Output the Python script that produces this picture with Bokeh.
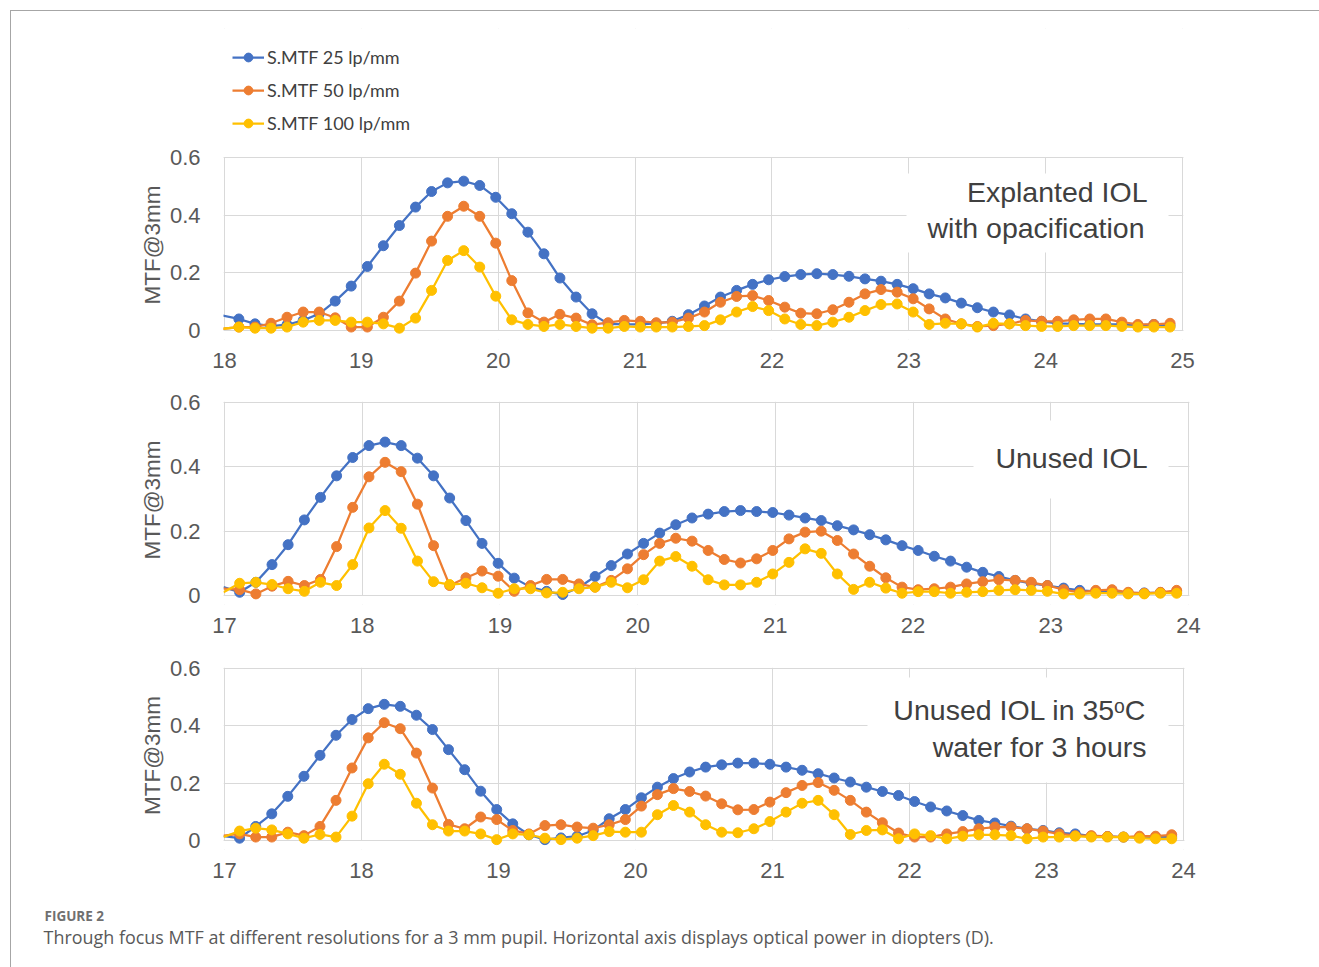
from bokeh.plotting import figure
from bokeh.models import (Range1d, FixedTicker, CustomJSTickFormatter, Legend, LegendItem,
                          Label, BoxAnnotation, Span, Title)
from bokeh.layouts import column
from bokeh.embed import file_html
from bokeh.resources import INLINE

# ---------------------------------------------------------------- data
# through-focus defocus positions (D)
x_explanted = [17.988, 18.105, 18.223, 18.340, 18.457, 18.575, 18.692, 18.809, 18.926, 19.044,
               19.161, 19.278, 19.396, 19.513, 19.630, 19.748, 19.865, 19.982, 20.099, 20.217,
               20.334, 20.451, 20.569, 20.686, 20.803, 20.921, 21.038, 21.155, 21.272, 21.390,
               21.507, 21.624, 21.742, 21.859, 21.976, 22.094, 22.211, 22.328, 22.445, 22.563,
               22.680, 22.797, 22.915, 23.032, 23.149, 23.267, 23.384, 23.501, 23.618, 23.736,
               23.853, 23.970, 24.088, 24.205, 24.322, 24.440, 24.557, 24.674, 24.791, 24.909]
x_unused = [16.993, 17.110, 17.228, 17.345, 17.462, 17.580, 17.697, 17.814, 17.931, 18.049,
            18.166, 18.283, 18.401, 18.518, 18.635, 18.753, 18.870, 18.987, 19.104, 19.222,
            19.339, 19.456, 19.574, 19.691, 19.808, 19.926, 20.043, 20.160, 20.277, 20.395,
            20.512, 20.629, 20.747, 20.864, 20.981, 21.099, 21.216, 21.333, 21.450, 21.568,
            21.685, 21.802, 21.920, 22.037, 22.154, 22.272, 22.389, 22.506, 22.623, 22.741,
            22.858, 22.975, 23.093, 23.210, 23.327, 23.445, 23.562, 23.679, 23.796, 23.914]

series_labels = ["S.MTF 25 lp/mm", "S.MTF 50 lp/mm", "S.MTF 100 lp/mm"]

# Explanted IOL with opacification
exp_25 = [0.052, 0.040, 0.023, 0.015, 0.020, 0.035, 0.058, 0.102, 0.154, 0.222,
          0.294, 0.364, 0.428, 0.482, 0.512, 0.518, 0.503, 0.462, 0.405, 0.341,
          0.266, 0.182, 0.116, 0.058, 0.023, 0.021, 0.021, 0.025, 0.032, 0.055,
          0.085, 0.116, 0.139, 0.160, 0.176, 0.187, 0.194, 0.197, 0.194, 0.188,
          0.179, 0.171, 0.160, 0.145, 0.127, 0.113, 0.095, 0.079, 0.064, 0.054,
          0.040, 0.032, 0.025, 0.023, 0.021, 0.021, 0.021, 0.018, 0.021, 0.017]
exp_50 = [0.006, 0.012, 0.012, 0.025, 0.046, 0.064, 0.064, 0.044, 0.012, 0.012,
          0.046, 0.102, 0.199, 0.310, 0.396, 0.431, 0.396, 0.303, 0.173, 0.061,
          0.029, 0.056, 0.043, 0.020, 0.027, 0.035, 0.032, 0.027, 0.029, 0.043,
          0.064, 0.098, 0.118, 0.121, 0.104, 0.081, 0.060, 0.058, 0.072, 0.098,
          0.127, 0.142, 0.133, 0.110, 0.075, 0.040, 0.023, 0.014, 0.017, 0.023,
          0.035, 0.032, 0.032, 0.037, 0.040, 0.040, 0.029, 0.021, 0.021, 0.025]
exp_100 = [0.006, 0.012, 0.008, 0.008, 0.012, 0.029, 0.035, 0.035, 0.029, 0.029,
           0.023, 0.008, 0.043, 0.139, 0.243, 0.277, 0.220, 0.119, 0.037, 0.021,
           0.014, 0.021, 0.014, 0.008, 0.008, 0.014, 0.012, 0.012, 0.012, 0.014,
           0.017, 0.037, 0.064, 0.083, 0.069, 0.040, 0.021, 0.017, 0.029, 0.046,
           0.069, 0.090, 0.092, 0.064, 0.021, 0.025, 0.023, 0.012, 0.025, 0.023,
           0.017, 0.014, 0.014, 0.017, 0.017, 0.017, 0.014, 0.012, 0.012, 0.012]

# Unused IOL
new_25 = [0.026, 0.010, 0.041, 0.096, 0.158, 0.235, 0.305, 0.372, 0.429, 0.466,
          0.477, 0.466, 0.427, 0.372, 0.303, 0.233, 0.162, 0.100, 0.054, 0.026,
          0.013, 0.003, 0.025, 0.059, 0.093, 0.129, 0.162, 0.194, 0.220, 0.241,
          0.253, 0.261, 0.264, 0.261, 0.258, 0.250, 0.241, 0.233, 0.217, 0.204,
          0.189, 0.173, 0.155, 0.140, 0.122, 0.107, 0.088, 0.072, 0.059, 0.047,
          0.038, 0.031, 0.023, 0.016, 0.013, 0.013, 0.007, 0.008, 0.009, 0.011]
new_50 = [0.021, 0.018, 0.005, 0.029, 0.044, 0.031, 0.050, 0.152, 0.274, 0.369,
          0.414, 0.385, 0.284, 0.155, 0.031, 0.055, 0.076, 0.060, 0.013, 0.031,
          0.050, 0.050, 0.036, 0.026, 0.047, 0.083, 0.127, 0.162, 0.178, 0.169,
          0.140, 0.112, 0.101, 0.114, 0.140, 0.176, 0.197, 0.200, 0.171, 0.129,
          0.091, 0.055, 0.026, 0.018, 0.021, 0.026, 0.036, 0.043, 0.049, 0.047,
          0.041, 0.031, 0.018, 0.010, 0.016, 0.018, 0.010, 0.007, 0.010, 0.016]
new_100 = [0.010, 0.038, 0.041, 0.034, 0.021, 0.013, 0.041, 0.031, 0.096, 0.210,
           0.264, 0.209, 0.107, 0.043, 0.034, 0.038, 0.024, 0.007, 0.021, 0.021,
           0.008, 0.010, 0.021, 0.026, 0.041, 0.024, 0.049, 0.107, 0.121, 0.091,
           0.049, 0.033, 0.033, 0.041, 0.067, 0.103, 0.145, 0.131, 0.067, 0.019,
           0.041, 0.023, 0.007, 0.012, 0.012, 0.007, 0.010, 0.012, 0.016, 0.018,
           0.016, 0.013, 0.005, 0.005, 0.007, 0.007, 0.005, 0.005, 0.007, 0.007]

# Unused IOL after 3 hours in 35 oC water
warm_25 = [0.015, 0.008, 0.049, 0.093, 0.154, 0.224, 0.297, 0.367, 0.422, 0.460,
           0.475, 0.468, 0.437, 0.387, 0.317, 0.247, 0.172, 0.108, 0.058, 0.020,
           0.003, 0.009, 0.015, 0.035, 0.076, 0.108, 0.149, 0.186, 0.216, 0.239,
           0.256, 0.264, 0.270, 0.270, 0.266, 0.256, 0.245, 0.233, 0.218, 0.204,
           0.186, 0.171, 0.157, 0.136, 0.117, 0.103, 0.087, 0.070, 0.061, 0.050,
           0.041, 0.035, 0.027, 0.023, 0.015, 0.014, 0.012, 0.012, 0.012, 0.012]
warm_50 = [0.017, 0.023, 0.012, 0.012, 0.029, 0.017, 0.049, 0.140, 0.253, 0.358,
           0.411, 0.390, 0.305, 0.183, 0.056, 0.041, 0.082, 0.073, 0.035, 0.023,
           0.052, 0.055, 0.047, 0.043, 0.055, 0.073, 0.120, 0.160, 0.181, 0.171,
           0.155, 0.128, 0.107, 0.108, 0.134, 0.167, 0.192, 0.202, 0.175, 0.140,
           0.099, 0.062, 0.026, 0.012, 0.012, 0.023, 0.031, 0.041, 0.047, 0.047,
           0.041, 0.033, 0.023, 0.017, 0.017, 0.014, 0.012, 0.015, 0.015, 0.020]
warm_100 = [0.012, 0.033, 0.043, 0.037, 0.023, 0.008, 0.021, 0.012, 0.085, 0.198,
            0.266, 0.231, 0.130, 0.055, 0.033, 0.033, 0.023, 0.003, 0.023, 0.020,
            0.008, 0.003, 0.008, 0.017, 0.031, 0.029, 0.029, 0.090, 0.122, 0.099,
            0.055, 0.029, 0.027, 0.041, 0.066, 0.099, 0.130, 0.140, 0.090, 0.021,
            0.035, 0.037, 0.006, 0.023, 0.017, 0.006, 0.015, 0.020, 0.020, 0.017,
            0.006, 0.012, 0.012, 0.015, 0.012, 0.012, 0.012, 0.008, 0.006, 0.006]

y_ticks = [0, 0.2, 0.4, 0.6]
y_title = "MTF@3mm"

# ---------------------------------------------------------------- style
COLORS = ["#4472C4", "#ED7D31", "#FFC000"]
FONT = "Liberation Sans"
TEXT_GREY = "#595959"
GRID = "#d9d9d9"
PAGE_W, PAGE_H = 1319, 967
ORIGIN = 11           # content starts after the 10px margin and the 1px frame line
FIG_W = PAGE_W - ORIGIN
LABEL_LIFT = 11.5     # alphabetic baseline correction for panel captions
Y_TITLE_HALF = 60.5   # half the drawn length of the y title


def make_panel(xs, ys, x_lo, x_hi, px_lo, px_hi, py_top, py_zero, fig_top, fig_bot,
               boxes, labels, frame_top=None, legend_top=None):
    """One MTF panel. px_*/py_* are page pixel positions of the axis limits."""
    ppx = (px_hi - px_lo) / (x_hi - x_lo)
    ppy = (py_zero - py_top) / 0.6
    frame_l, frame_r = px_lo - 1, px_hi + 1
    frame_t = py_top - 1 if frame_top is None else frame_top
    frame_b = py_zero + 9

    def dx(px):
        return x_lo + (px - px_lo) / ppx

    def dy(py):
        return (py_zero - py) / ppy

    p = figure(width=FIG_W, height=fig_bot - fig_top,
               x_range=Range1d(dx(frame_l), dx(frame_r)),
               y_range=Range1d(dy(frame_b), dy(frame_t)),
               output_backend="svg", toolbar_location=None,
               min_border_left=frame_l - ORIGIN, min_border_right=PAGE_W - frame_r,
               min_border_top=frame_t - fig_top, min_border_bottom=fig_bot - frame_b)
    p.frame_align = False
    p.outline_line_color = None
    p.background_fill_color = "white"
    p.border_fill_color = "white"

    xt = FixedTicker(ticks=list(range(x_lo, x_hi + 1)))
    yt = FixedTicker(ticks=y_ticks)
    p.xaxis.ticker = xt
    p.yaxis.ticker = yt
    p.xgrid.ticker = xt
    p.ygrid.ticker = yt
    p.yaxis.bounds = (0, 0.6)
    p.yaxis.formatter = CustomJSTickFormatter(code="return tick == 0 ? '0' : tick.toFixed(1);")
    for ax in (p.xaxis[0], p.yaxis[0]):
        ax.axis_line_color = None
        ax.major_tick_line_color = None
        ax.minor_tick_line_color = None
        ax.major_tick_out = 0
        ax.major_tick_in = 0
        ax.major_label_text_font = FONT
        ax.major_label_text_font_size = "22px"
        ax.major_label_text_color = TEXT_GREY
    p.xaxis.major_label_standoff = 13
    p.yaxis.major_label_standoff = 23

    # y title, centred on the 0..0.6 part of the axis
    centre = (py_top + py_zero) / 2
    p.add_layout(Title(text=y_title, align="left", offset=frame_b - (centre + Y_TITLE_HALF),
                       standoff=3, text_font=FONT, text_font_size="22.5px",
                       text_font_style="normal", text_color=TEXT_GREY), "left")
    p.grid.grid_line_color = GRID
    p.grid.grid_line_width = 1

    # keep the strips outside 0..0.6 blank (markers near zero stay whole)
    p.add_layout(BoxAnnotation(top=0, fill_color="white", fill_alpha=1,
                               line_color=None, level="underlay"))
    p.add_layout(BoxAnnotation(bottom=0.6, fill_color="white", fill_alpha=1,
                               line_color=None, level="underlay"))
    for edge in (0, 0.6):
        p.add_layout(Span(location=edge, dimension="width", line_color=GRID,
                          line_width=1, level="underlay"))

    # white panel caption boxes
    for (l, r, t, b) in boxes:
        p.add_layout(BoxAnnotation(left=dx(l), right=dx(r), top=dy(t), bottom=dy(b),
                                   fill_color="white", fill_alpha=1, line_color=None,
                                   level="underlay"))
    for (txt, rx, base) in labels:
        p.add_layout(Label(x=dx(rx), y=dy(base - LABEL_LIFT), text=txt, text_align="right",
                           text_baseline="alphabetic", text_font=FONT,
                           text_font_size="28.5px", text_color="#404040"))

    items = []
    for vals, color, name in zip(ys, COLORS, series_labels):
        rl = p.line(xs, vals, line_color=color, line_width=2.25)
        rs = p.scatter(xs[1:], vals[1:], size=10, fill_color=color, line_color=color)
        items.append(LegendItem(label=name, renderers=[rl, rs]))

    if legend_top is not None:
        n, row_h, gap = len(items), 22, 11
        leg_h = n * row_h + (n - 1) * gap
        lg = Legend(items=items, location=(9, frame_b - (legend_top + leg_h)),
                    orientation="vertical", border_line_color=None,
                    background_fill_alpha=0, padding=0, margin=0, spacing=gap,
                    glyph_width=32, glyph_height=row_h, label_height=row_h, label_standoff=3,
                    label_text_font="Lato", label_text_font_size="18px",
                    label_text_color="#404040")
        p.add_layout(lg)
    return p


p1 = make_panel(x_explanted, [exp_25, exp_50, exp_100], 18, 25, 224, 1182, 157, 330,
                ORIGIN, 384,
                boxes=[(906, 1168, 173, 252)],
                labels=[("Explanted IOL", 1147, 203), ("with opacification", 1144, 238.5)],
                frame_top=28, legend_top=46)
p2 = make_panel(x_unused, [new_25, new_50, new_100], 17, 24, 224, 1188, 402, 595,
                384, 650,
                boxes=[(973, 1168, 420, 498)],
                labels=[("Unused IOL", 1147, 469)])
p3 = make_panel(x_unused, [warm_25, warm_50, warm_100], 17, 24, 224, 1183, 668, 840,
                650, 895,
                boxes=[(867, 1168, 677, 782)],
                labels=[("Unused IOL in 35ᵒC", 1146, 721), ("water for 3 hours", 1146, 757.5)])

# figure caption strip
CAP_TOP = 895
cap = figure(width=FIG_W, height=PAGE_H - CAP_TOP,
             x_range=Range1d(0, FIG_W), y_range=Range1d(PAGE_H - CAP_TOP, 0),
             output_backend="svg", toolbar_location=None, min_border=0)
cap.frame_align = False
cap.axis.visible = False
cap.grid.visible = False
cap.outline_line_color = None
cap.add_layout(Label(x=44 - ORIGIN, y=915 - CAP_TOP, text="FIGURE 2", text_baseline="middle",
                     text_font="Open Sans", text_font_size="13.5px", text_font_style="bold",
                     text_color="#707070"))
cap.add_layout(Label(x=43 - ORIGIN, y=936 - CAP_TOP,
                     text="Through focus MTF at different resolutions for a 3 mm pupil. "
                          "Horizontal axis displays optical power in diopters (D).",
                     text_baseline="middle", text_font="Open Sans", text_font_size="17.95px",
                     text_color="#595959"))

layout = column(p1, p2, p3, cap, spacing=0, margin=(10, 0, 0, 10),
                styles={"border-top": "1px solid #a6a6a6", "border-left": "1px solid #a6a6a6"})

open("out.html", "w").write(file_html(layout, INLINE))
